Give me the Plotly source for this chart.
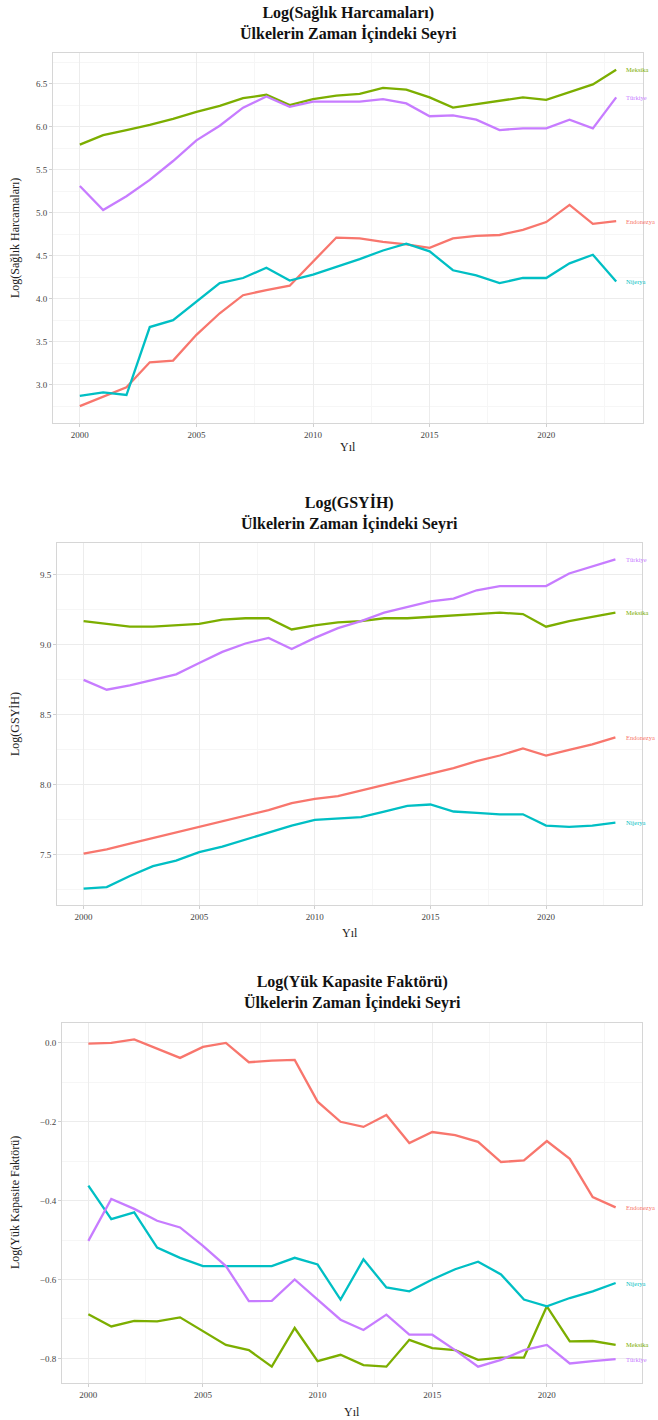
import plotly.graph_objects as go

years = list(range(2000, 2024))
countries = ["Endonezya", "Meksika", "Nijerya", "Türkiye"]
colors = ["#F8766D", "#7CAE00", "#00BFC4", "#C77CFF"]

# Log(Sağlık Harcamaları)
health_endonezya = [2.75, 2.86, 2.97, 3.26, 3.28, 3.58, 3.83, 4.04, 4.10, 4.15, 4.43, 4.71,
                    4.70, 4.66, 4.63, 4.59, 4.70, 4.73, 4.74, 4.80, 4.89, 5.09, 4.87, 4.90]
health_meksika = [5.79, 5.90, 5.96, 6.02, 6.09, 6.17, 6.24, 6.33, 6.37, 6.25, 6.32, 6.36,
                  6.38, 6.45, 6.43, 6.34, 6.22, 6.26, 6.30, 6.34, 6.31, 6.40, 6.49, 6.66]
health_nijerya = [2.87, 2.91, 2.88, 3.67, 3.75, 3.96, 4.18, 4.24, 4.36, 4.21, 4.28, 4.37,
                  4.46, 4.56, 4.64, 4.55, 4.33, 4.27, 4.18, 4.24, 4.24, 4.41, 4.51, 4.20]
health_turkiye = [5.31, 5.03, 5.19, 5.38, 5.60, 5.84, 6.01, 6.22, 6.35, 6.23, 6.29, 6.29,
                  6.29, 6.32, 6.27, 6.12, 6.13, 6.08, 5.96, 5.98, 5.98, 6.08, 5.98, 6.34]

# Log(GSYİH)
gdp_endonezya = [7.51, 7.54, 7.58, 7.62, 7.66, 7.70, 7.74, 7.78, 7.82, 7.87, 7.90, 7.92,
                 7.96, 8.00, 8.04, 8.08, 8.12, 8.17, 8.21, 8.26, 8.21, 8.25, 8.29, 8.34]
gdp_meksika = [9.17, 9.15, 9.13, 9.13, 9.14, 9.15, 9.18, 9.19, 9.19, 9.11, 9.14, 9.16,
               9.17, 9.19, 9.19, 9.20, 9.21, 9.22, 9.23, 9.22, 9.13, 9.17, 9.20, 9.23]
gdp_nijerya = [7.26, 7.27, 7.35, 7.42, 7.46, 7.52, 7.56, 7.61, 7.66, 7.71, 7.75, 7.76,
               7.77, 7.81, 7.85, 7.86, 7.81, 7.80, 7.79, 7.79, 7.71, 7.70, 7.71, 7.73]
gdp_turkiye = [8.75, 8.68, 8.71, 8.75, 8.79, 8.87, 8.95, 9.01, 9.05, 8.97, 9.05, 9.12,
               9.17, 9.23, 9.27, 9.31, 9.33, 9.39, 9.42, 9.42, 9.42, 9.51, 9.56, 9.61]

# Log(Yük Kapasite Faktörü)
lcf_endonezya = [-0.002, 0.000, 0.009, -0.015, -0.038, -0.010, 0.000, -0.049, -0.045, -0.043,
                 -0.149, -0.200, -0.213, -0.183, -0.254, -0.226, -0.234, -0.251, -0.302,
                 -0.298, -0.249, -0.294, -0.391, -0.417]
lcf_meksika = [-0.688, -0.719, -0.705, -0.706, -0.696, -0.732, -0.766, -0.779, -0.821, -0.723,
               -0.807, -0.791, -0.817, -0.821, -0.753, -0.774, -0.779, -0.804, -0.798,
               -0.798, -0.668, -0.757, -0.756, -0.766]
lcf_nijerya = [-0.362, -0.447, -0.430, -0.519, -0.545, -0.566, -0.566, -0.566, -0.566, -0.545,
               -0.562, -0.651, -0.549, -0.620, -0.630, -0.600, -0.574, -0.555, -0.587,
               -0.651, -0.668, -0.647, -0.630, -0.609]
lcf_turkiye = [-0.502, -0.396, -0.421, -0.451, -0.468, -0.515, -0.566, -0.655, -0.654, -0.600,
               -0.651, -0.702, -0.728, -0.689, -0.740, -0.740, -0.779, -0.821, -0.804,
               -0.779, -0.766, -0.813, -0.807, -0.802]

panels = [
    dict(var="Log(Sağlık Harcamaları)", ytitle="Log(Sağlık Harcamaları)",
         series=[health_endonezya, health_meksika, health_nijerya, health_turkiye],
         dtick=0.5, box=(53, 643, 53, 423), title_y=24, xtitle_y=447, ytitle_x=15),
    dict(var="Log(GSYİH)", ytitle="Log(GSYİH)",
         series=[gdp_endonezya, gdp_meksika, gdp_nijerya, gdp_turkiye],
         dtick=0.5, box=(57, 642, 543, 905), title_y=513, xtitle_y=933, ytitle_x=15),
    dict(var="Log(Yük Kapasite Faktörü)", ytitle="Log(Yük Kapasite Faktörü)",
         series=[lcf_endonezya, lcf_meksika, lcf_nijerya, lcf_turkiye],
         dtick=0.2, box=(62, 642, 1023, 1383), title_y=993, xtitle_y=1412, ytitle_x=15),
]

W, H = 658, 1420
FONT = "Liberation Serif"

fig = go.Figure()
annotations = []
layout_axes = {}

for i, p in enumerate(panels):
    n = i + 1
    xa = "x" if n == 1 else f"x{n}"
    ya = "y" if n == 1 else f"y{n}"
    x0, x1, y0, y1 = p["box"]
    for name, col, vals in zip(countries, colors, p["series"]):
        fig.add_trace(go.Scatter(x=years, y=vals, mode="lines", name=name,
                                 line=dict(color=col, width=2.3),
                                 xaxis=xa, yaxis=ya, showlegend=False))
        annotations.append(dict(x=years[-1] + 0.35, y=vals[-1], xref=xa, yref=ya,
                                text=name, showarrow=False, xanchor="left",
                                yanchor="middle", xshift=0,
                                font=dict(family=FONT, size=6.5, color=col)))
    allv = [v for s in p["series"] for v in s]
    lo, hi = min(allv), max(allv)
    pad = 0.05 * (hi - lo)
    xpad = 0.05 * (years[-1] - years[0])
    common = dict(showline=True, linecolor="#d6d6d6", linewidth=1, mirror=True,
                  showgrid=True, gridcolor="#ececec", gridwidth=1,
                  zeroline=False, ticks="outside", ticklen=3, tickcolor="#cfcfcf",
                  tickfont=dict(family=FONT, size=9, color="#444444"))
    layout_axes["xaxis" if n == 1 else f"xaxis{n}"] = dict(
        domain=[x0 / W, x1 / W], anchor=ya, range=[years[0] - xpad, years[-1] + xpad],
        tick0=2000, dtick=5, minor=dict(dtick=2.5, showgrid=True, gridcolor="#f6f6f6"),
        **common)
    layout_axes["yaxis" if n == 1 else f"yaxis{n}"] = dict(
        domain=[1 - y1 / H, 1 - y0 / H], anchor=xa, range=[lo - pad, hi + pad],
        tick0=0, dtick=p["dtick"], tickformat=".1f",
        minor=dict(dtick=p["dtick"] / 2, showgrid=True, gridcolor="#f6f6f6"),
        **common)
    # title
    annotations.append(dict(x=(x0 + x1) / 2 / W, y=1 - p["title_y"] / H,
                            xref="paper", yref="paper", showarrow=False,
                            xanchor="center", yanchor="middle",
                            text=f"<b>{p['var']}<br>Ülkelerin Zaman İçindeki Seyri</b>",
                            font=dict(family=FONT, size=16, color="#111111")))
    # x title
    annotations.append(dict(x=(x0 + x1) / 2 / W, y=1 - p["xtitle_y"] / H,
                            xref="paper", yref="paper", showarrow=False,
                            xanchor="center", yanchor="middle", text="Yıl",
                            font=dict(family=FONT, size=12, color="#222222")))
    # y title
    annotations.append(dict(x=p["ytitle_x"] / W, y=1 - (y0 + y1) / 2 / H,
                            xref="paper", yref="paper", showarrow=False,
                            xanchor="center", yanchor="middle", textangle=-90,
                            text=p["ytitle"],
                            font=dict(family=FONT, size=12, color="#222222")))

fig.update_layout(width=W, height=H, autosize=False,
                  margin=dict(l=0, r=0, t=0, b=0),
                  paper_bgcolor="white", plot_bgcolor="white",
                  annotations=annotations, **layout_axes)

fig.write_html("out.html", config={"displayModeBar": False},
               post_script="document.body.style.margin='0';")
